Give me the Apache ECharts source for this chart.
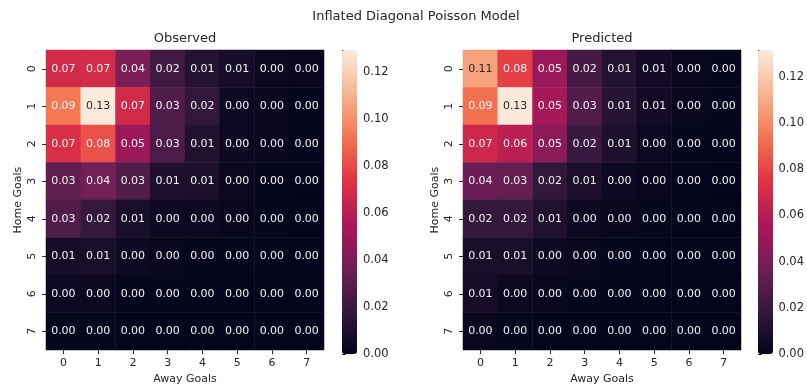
<!DOCTYPE html>
<html>
<head>
<meta charset="utf-8">
<script src="https://cdn.jsdelivr.net/npm/echarts@6/dist/echarts.min.js"></script>
<style>
  html, body { margin: 0; padding: 0; background: #fff; }
  #chart { width: 807px; height: 390px; }
</style>
</head>
<body>
<div id="chart"></div>
<script>
const awayGoals = ['0', '1', '2', '3', '4', '5', '6', '7'];
const homeGoals = ['0', '1', '2', '3', '4', '5', '6', '7'];

// rows = home goals, columns = away goals
const observed = [
  [0.068, 0.069, 0.040, 0.022, 0.012, 0.007, 0.003, 0.002],
  [0.093, 0.129, 0.068, 0.027, 0.017, 0.004, 0.002, 0.001],
  [0.071, 0.082, 0.050, 0.026, 0.011, 0.004, 0.002, 0.001],
  [0.032, 0.037, 0.027, 0.010, 0.009, 0.003, 0.001, 0.000],
  [0.027, 0.018, 0.008, 0.004, 0.004, 0.002, 0.001, 0.000],
  [0.007, 0.008, 0.004, 0.002, 0.001, 0.001, 0.000, 0.000],
  [0.004, 0.003, 0.001, 0.001, 0.000, 0.000, 0.000, 0.000],
  [0.001, 0.001, 0.000, 0.000, 0.000, 0.000, 0.000, 0.000]
];
const predicted = [
  [0.107, 0.079, 0.051, 0.024, 0.012, 0.006, 0.002, 0.001],
  [0.093, 0.131, 0.054, 0.028, 0.013, 0.006, 0.002, 0.001],
  [0.068, 0.062, 0.046, 0.020, 0.010, 0.004, 0.001, 0.000],
  [0.036, 0.034, 0.017, 0.009, 0.004, 0.002, 0.001, 0.000],
  [0.018, 0.018, 0.011, 0.004, 0.002, 0.001, 0.000, 0.000],
  [0.008, 0.008, 0.004, 0.002, 0.001, 0.000, 0.000, 0.000],
  [0.007, 0.003, 0.002, 0.001, 0.000, 0.000, 0.000, 0.000],
  [0.002, 0.001, 0.000, 0.000, 0.000, 0.000, 0.000, 0.000]
];
const colorbarMax = [0.1292, 0.1317];
const colorbarTicks = [0.00, 0.02, 0.04, 0.06, 0.08, 0.10, 0.12];

// seaborn "rocket"
const rocket = ['#03051a', '#35193e', '#701f57', '#ad1759', '#e13342', '#f37651', '#f6b48f', '#faebdd'];

const FONT = 'DejaVu Sans';
const TEXT = '#262626';

function cells(matrix) {
  const out = [];
  matrix.forEach((row, h) => {
    row.forEach((v, a) => {
      out.push({
        value: [a, h, v],
        label: { color: v > 0.1 ? TEXT : '#f4f4f4' }
      });
    });
  });
  return out;
}

function heatAxes(i) {
  return {
    x: {
      type: 'category', gridIndex: i, data: awayGoals,
      name: 'Away Goals', nameLocation: 'middle', nameGap: 21,
      nameTextStyle: { fontFamily: FONT, fontSize: 11, color: TEXT },
      axisLine: { show: false },
      axisTick: { show: true, alignWithLabel: true, length: 4, lineStyle: { color: TEXT } },
      axisLabel: { fontFamily: FONT, fontSize: 11, color: TEXT, margin: 8 },
      splitLine: { show: false }
    },
    y: {
      type: 'category', gridIndex: i, data: homeGoals, inverse: true,
      name: 'Home Goals', nameLocation: 'middle', nameGap: 22,
      nameTextStyle: { fontFamily: FONT, fontSize: 11, color: TEXT },
      axisLine: { show: false },
      axisTick: { show: true, alignWithLabel: true, length: 4, lineStyle: { color: TEXT } },
      axisLabel: { fontFamily: FONT, fontSize: 11, color: TEXT, rotate: 90, margin: 8 },
      splitLine: { show: false }
    }
  };
}

function barAxes(i, max) {
  return {
    x: { type: 'value', gridIndex: i, show: false, min: 0, max: 1 },
    y: {
      type: 'value', gridIndex: i, position: 'right', min: 0, max: max, interval: 0.02,
      axisLine: { show: false },
      axisTick: { show: true, length: 4, lineStyle: { color: TEXT } },
      axisLabel: {
        fontFamily: FONT, fontSize: 11.5, color: TEXT, margin: 6,
        formatter: v => colorbarTicks.some(t => Math.abs(t - v) < 1e-9) ? v.toFixed(2) : ''
      },
      splitLine: { show: false }
    }
  };
}

const h0 = heatAxes(0), h1 = heatAxes(1);
const b0 = barAxes(2, colorbarMax[0]), b1 = barAxes(3, colorbarMax[1]);

const chart = echarts.init(document.getElementById('chart'), null, { renderer: 'canvas' });

chart.setOption({
  animation: false,
  backgroundColor: '#ffffff',
  title: [
    { text: 'Inflated Diagonal Poisson Model', left: 416, top: 10, textAlign: 'center', padding: 0,
      textStyle: { fontFamily: FONT, fontSize: 13, fontWeight: 'normal', color: TEXT } },
    { text: 'Observed', left: 185, top: 32, textAlign: 'center', padding: 0,
      textStyle: { fontFamily: FONT, fontSize: 13, fontWeight: 'normal', color: TEXT } },
    { text: 'Predicted', left: 602, top: 32, textAlign: 'center', padding: 0,
      textStyle: { fontFamily: FONT, fontSize: 13, fontWeight: 'normal', color: TEXT } }
  ],
  grid: [
    { left: 46, top: 50, width: 278, height: 304 },
    { left: 463, top: 50, width: 278, height: 304 },
    { left: 342, top: 50, width: 15, height: 304 },
    { left: 758, top: 50, width: 15, height: 304 }
  ],
  xAxis: [h0.x, h1.x, b0.x, b1.x],
  yAxis: [h0.y, h1.y, b0.y, b1.y],
  visualMap: [
    { type: 'continuous', seriesIndex: 0, min: 0, max: colorbarMax[0], calculable: false,
      left: 342, top: 50, itemWidth: 15, itemHeight: 304, padding: 0, text: null,
      showLabel: false, indicatorSize: 0, inRange: { color: rocket }, hoverLink: false },
    { type: 'continuous', seriesIndex: 1, min: 0, max: colorbarMax[1], calculable: false,
      left: 758, top: 50, itemWidth: 15, itemHeight: 304, padding: 0, text: null,
      showLabel: false, indicatorSize: 0, inRange: { color: rocket }, hoverLink: false }
  ],
  series: [
    {
      type: 'heatmap', xAxisIndex: 0, yAxisIndex: 0, data: cells(observed),
      label: { show: true, fontFamily: FONT, fontSize: 11, formatter: p => p.value[2].toFixed(2) }
    },
    {
      type: 'heatmap', xAxisIndex: 1, yAxisIndex: 1, data: cells(predicted),
      label: { show: true, fontFamily: FONT, fontSize: 11, formatter: p => p.value[2].toFixed(2) }
    },
    { type: 'scatter', xAxisIndex: 2, yAxisIndex: 2, data: [] },
    { type: 'scatter', xAxisIndex: 3, yAxisIndex: 3, data: [] }
  ]
});
</script>
</body>
</html>
